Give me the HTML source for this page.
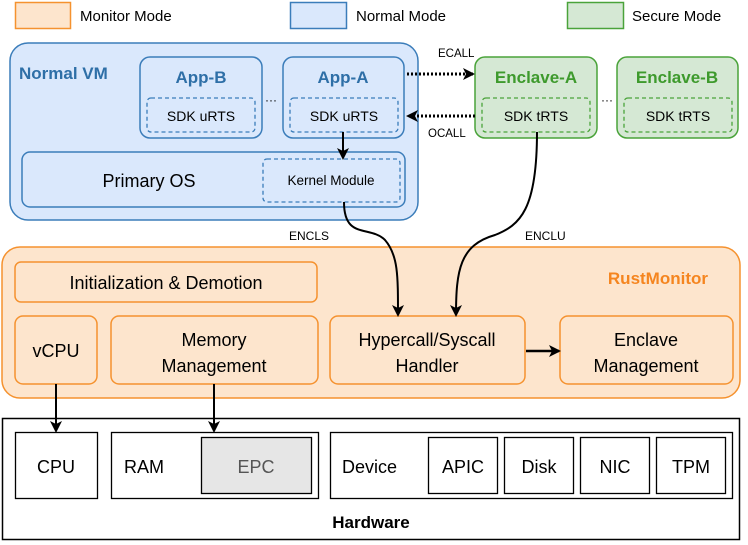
<!DOCTYPE html>
<html><head><style>
body{margin:0;background:#fff;}
svg{display:block;font-family:"Liberation Sans",sans-serif;}
</style></head><body>
<svg width="748" height="545" viewBox="0 0 748 545" xmlns="http://www.w3.org/2000/svg">
<defs>
<marker id="a" markerWidth="12" markerHeight="12" refX="10" refY="6" orient="auto" markerUnits="userSpaceOnUse"><path d="M0,0 L12,6 L0,12 L3,6 z" fill="#000"/></marker>
</defs>
<!-- legend -->
<rect x="15.5" y="2.5" width="55" height="26" fill="#fde5cd" stroke="#f5922f" stroke-width="1.5"/>
<text x="80" y="21" font-size="15">Monitor Mode</text>
<rect x="290.5" y="2.5" width="56" height="26" fill="#dae8fc" stroke="#3b7dba" stroke-width="1.5"/>
<text x="356" y="21" font-size="15">Normal Mode</text>
<rect x="567.5" y="2.5" width="56" height="26" fill="#d5e8d4" stroke="#4aa33a" stroke-width="1.5"/>
<text x="632" y="21" font-size="15">Secure Mode</text>

<!-- Normal VM -->
<rect x="10" y="43" width="408" height="177" rx="18" fill="#dae8fc" stroke="#3b7dba" stroke-width="1.5"/>
<text x="19" y="79" font-size="17" font-weight="bold" fill="#2e6fa7">Normal VM</text>
<rect x="140" y="57" width="122" height="81" rx="10" fill="#dae8fc" stroke="#3b7dba" stroke-width="1.5"/>
<text x="201" y="83" font-size="17" font-weight="bold" fill="#2e6fa7" text-anchor="middle">App-B</text>
<rect x="147" y="98" width="108" height="34" rx="4" fill="none" stroke="#3b7dba" stroke-width="1.3" stroke-dasharray="4,3"/>
<text x="201" y="121" font-size="14" text-anchor="middle">SDK uRTS</text>
<rect x="283" y="57" width="121" height="81" rx="10" fill="#dae8fc" stroke="#3b7dba" stroke-width="1.5"/>
<text x="343" y="83" font-size="17" font-weight="bold" fill="#2e6fa7" text-anchor="middle">App-A</text>
<rect x="290" y="98" width="108" height="34" rx="4" fill="none" stroke="#3b7dba" stroke-width="1.3" stroke-dasharray="4,3"/>
<text x="344" y="121" font-size="14" text-anchor="middle">SDK uRTS</text>
<text x="271" y="104" font-size="12" text-anchor="middle">···</text>
<rect x="22" y="152" width="383" height="55" rx="8" fill="#dae8fc" stroke="#3b7dba" stroke-width="1.5"/>
<text x="149" y="187" font-size="18" text-anchor="middle">Primary OS</text>
<rect x="263" y="159" width="137" height="43" rx="4" fill="none" stroke="#3b7dba" stroke-width="1.3" stroke-dasharray="4,3"/>
<text x="331" y="185" font-size="13.5" text-anchor="middle">Kernel Module</text>
<line x1="343" y1="132" x2="343" y2="158" stroke="#000" stroke-width="2" marker-end="url(#a)"/>

<!-- Enclaves -->
<rect x="475" y="57" width="122" height="81" rx="10" fill="#d5e8d4" stroke="#4aa33a" stroke-width="1.5"/>
<text x="536" y="83" font-size="17" font-weight="bold" fill="#3e9a2d" text-anchor="middle">Enclave-A</text>
<rect x="482" y="98" width="108" height="34" rx="4" fill="none" stroke="#4aa33a" stroke-width="1.3" stroke-dasharray="4,3"/>
<text x="536" y="121" font-size="14" text-anchor="middle">SDK tRTS</text>
<rect x="617" y="57" width="121" height="81" rx="10" fill="#d5e8d4" stroke="#4aa33a" stroke-width="1.5"/>
<text x="677" y="83" font-size="17" font-weight="bold" fill="#3e9a2d" text-anchor="middle">Enclave-B</text>
<rect x="624" y="98" width="108" height="34" rx="4" fill="none" stroke="#4aa33a" stroke-width="1.3" stroke-dasharray="4,3"/>
<text x="678" y="121" font-size="14" text-anchor="middle">SDK tRTS</text>
<text x="607" y="104" font-size="12" text-anchor="middle">···</text>

<line x1="407" y1="74" x2="473" y2="74" stroke="#000" stroke-width="3" stroke-dasharray="2,2" marker-end="url(#a)"/>
<line x1="475" y1="116" x2="408" y2="116" stroke="#000" stroke-width="3" stroke-dasharray="2,2" marker-end="url(#a)"/>
<text x="438" y="57" font-size="11.5">ECALL</text>
<text x="428" y="137" font-size="11.5">OCALL</text>

<text x="289" y="240" font-size="12">ENCLS</text>
<text x="525" y="240" font-size="12">ENCLU</text>

<!-- RustMonitor -->
<rect x="2" y="247" width="738" height="151" rx="18" fill="#fde5cd" stroke="#f5922f" stroke-width="1.5"/>
<text x="708" y="284" font-size="17" font-weight="bold" fill="#f5851f" text-anchor="end">RustMonitor</text>
<rect x="15" y="262" width="302" height="40" rx="6" fill="#fde5cd" stroke="#f5922f" stroke-width="1.5"/>
<text x="166" y="289" font-size="18" text-anchor="middle">Initialization &amp; Demotion</text>
<rect x="15" y="316" width="82" height="68" rx="8" fill="#fde5cd" stroke="#f5922f" stroke-width="1.5"/>
<text x="56" y="357" font-size="18" text-anchor="middle">vCPU</text>
<rect x="111" y="316" width="207" height="68" rx="8" fill="#fde5cd" stroke="#f5922f" stroke-width="1.5"/>
<text x="214" y="346" font-size="18" text-anchor="middle">Memory</text>
<text x="214" y="372" font-size="18" text-anchor="middle">Management</text>
<rect x="330" y="316" width="195" height="68" rx="8" fill="#fde5cd" stroke="#f5922f" stroke-width="1.5"/>
<text x="427" y="346" font-size="18" text-anchor="middle">Hypercall/Syscall</text>
<text x="427" y="372" font-size="18" text-anchor="middle">Handler</text>
<rect x="560" y="316" width="173" height="68" rx="8" fill="#fde5cd" stroke="#f5922f" stroke-width="1.5"/>
<text x="646" y="346" font-size="18" text-anchor="middle">Enclave</text>
<text x="646" y="372" font-size="18" text-anchor="middle">Management</text>
<line x1="526" y1="351" x2="559" y2="351" stroke="#000" stroke-width="2.5" marker-end="url(#a)"/>

<!-- curves (on top) -->
<path d="M344,202 C344,240 370,225 385,240 C398,255 398,275 398,315" fill="none" stroke="#000" stroke-width="2" marker-end="url(#a)"/>
<path d="M537,132 C537,210 520,225 495,235 C460,245 456,270 456,315" fill="none" stroke="#000" stroke-width="2" marker-end="url(#a)"/>

<!-- Hardware -->
<rect x="2.5" y="418.5" width="737" height="121" fill="#fff" stroke="#000" stroke-width="1.5"/>
<rect x="15.5" y="432.5" width="82" height="66" fill="#fff" stroke="#000" stroke-width="1.3"/>
<text x="56" y="473" font-size="18" text-anchor="middle">CPU</text>
<rect x="111.5" y="432.5" width="207" height="66" fill="#fff" stroke="#000" stroke-width="1.3"/>
<text x="124" y="473" font-size="18">RAM</text>
<rect x="201.5" y="437.5" width="110" height="56" fill="#e6e6e6" stroke="#000" stroke-width="1.3"/>
<text x="256" y="473" font-size="18" text-anchor="middle" fill="#555">EPC</text>
<rect x="330.5" y="432.5" width="402" height="66" fill="#fff" stroke="#000" stroke-width="1.3"/>
<text x="342" y="473" font-size="18">Device</text>
<rect x="428.5" y="437.5" width="69" height="56" fill="#fff" stroke="#000" stroke-width="1.3"/>
<text x="463" y="473" font-size="18" text-anchor="middle">APIC</text>
<rect x="504.5" y="437.5" width="69" height="56" fill="#fff" stroke="#000" stroke-width="1.3"/>
<text x="539" y="473" font-size="18" text-anchor="middle">Disk</text>
<rect x="580.5" y="437.5" width="69" height="56" fill="#fff" stroke="#000" stroke-width="1.3"/>
<text x="615" y="473" font-size="18" text-anchor="middle">NIC</text>
<rect x="656.5" y="437.5" width="69" height="56" fill="#fff" stroke="#000" stroke-width="1.3"/>
<text x="691" y="473" font-size="18" text-anchor="middle">TPM</text>
<text x="371" y="528" font-size="17" font-weight="bold" text-anchor="middle">Hardware</text>

<line x1="56" y1="384" x2="56" y2="431" stroke="#000" stroke-width="2" marker-end="url(#a)"/>
<line x1="214" y1="384" x2="214" y2="431" stroke="#000" stroke-width="2" marker-end="url(#a)"/>
</svg>
</body></html>
